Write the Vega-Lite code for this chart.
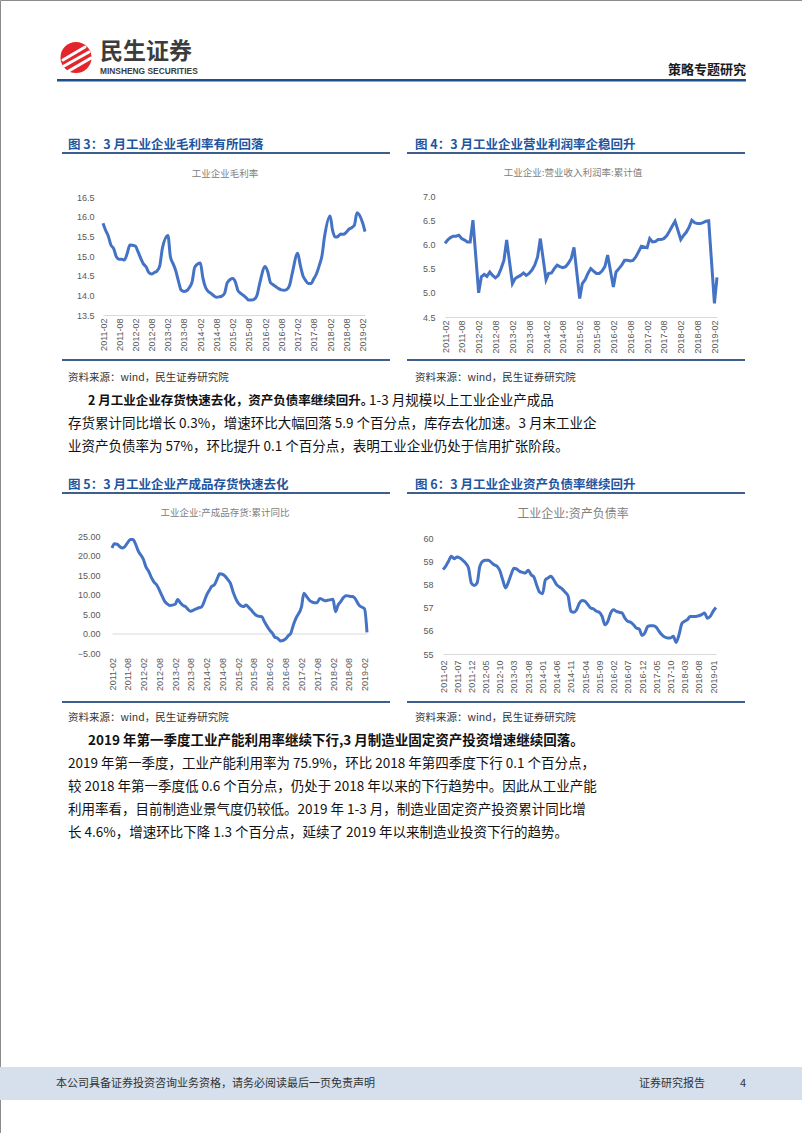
{
"$schema": "https://vega.github.io/schema/vega-lite/v6.json",
"width": 802, "height": 1133, "padding": 0, "autosize": {"type": "none"},
"background": "#ffffff",
"config": {"view": {"stroke": "#8c8c8c", "strokeWidth": 1}, "font": "Noto Sans CJK SC"},
"datasets": {
"gm": [
{"d":"2011-02","v":15.83},{"d":"2011-03","v":15.66},{"d":"2011-04","v":15.51},{"d":"2011-05","v":15.28},{"d":"2011-06","v":15.19},{"d":"2011-07","v":14.98},{"d":"2011-08","v":14.92},{"d":"2011-09","v":14.92},{"d":"2011-10","v":14.90},{"d":"2011-11","v":15.07},{"d":"2011-12","v":15.28},
{"d":"2012-02","v":15.25},{"d":"2012-03","v":15.11},{"d":"2012-04","v":14.94},{"d":"2012-05","v":14.80},{"d":"2012-06","v":14.72},{"d":"2012-07","v":14.58},{"d":"2012-08","v":14.54},{"d":"2012-09","v":14.58},{"d":"2012-10","v":14.62},{"d":"2012-11","v":14.75},{"d":"2012-12","v":15.20},
{"d":"2013-02","v":15.52},{"d":"2013-03","v":14.98},{"d":"2013-04","v":14.80},{"d":"2013-05","v":14.62},{"d":"2013-06","v":14.35},{"d":"2013-07","v":14.13},{"d":"2013-08","v":14.10},{"d":"2013-09","v":14.12},{"d":"2013-10","v":14.20},{"d":"2013-11","v":14.35},{"d":"2013-12","v":14.72},
{"d":"2014-02","v":14.82},{"d":"2014-03","v":14.45},{"d":"2014-04","v":14.20},{"d":"2014-05","v":14.10},{"d":"2014-06","v":14.05},{"d":"2014-07","v":13.99},{"d":"2014-08","v":13.95},{"d":"2014-09","v":13.96},{"d":"2014-10","v":13.98},{"d":"2014-11","v":14.05},{"d":"2014-12","v":14.32},
{"d":"2015-02","v":14.43},{"d":"2015-03","v":14.35},{"d":"2015-04","v":14.12},{"d":"2015-05","v":14.05},{"d":"2015-06","v":14.00},{"d":"2015-07","v":13.94},{"d":"2015-08","v":13.88},{"d":"2015-09","v":13.88},{"d":"2015-10","v":13.90},{"d":"2015-11","v":14.00},{"d":"2015-12","v":14.30},
{"d":"2016-02","v":14.73},{"d":"2016-03","v":14.60},{"d":"2016-04","v":14.32},{"d":"2016-05","v":14.27},{"d":"2016-06","v":14.22},{"d":"2016-07","v":14.17},{"d":"2016-08","v":14.14},{"d":"2016-09","v":14.13},{"d":"2016-10","v":14.15},{"d":"2016-11","v":14.25},{"d":"2016-12","v":14.55},
{"d":"2017-02","v":15.07},{"d":"2017-03","v":14.78},{"d":"2017-04","v":14.50},{"d":"2017-05","v":14.38},{"d":"2017-06","v":14.30},{"d":"2017-07","v":14.30},{"d":"2017-08","v":14.42},{"d":"2017-09","v":14.55},{"d":"2017-10","v":14.75},{"d":"2017-11","v":15.00},{"d":"2017-12","v":15.50},
{"d":"2018-02","v":16.02},{"d":"2018-03","v":15.65},{"d":"2018-04","v":15.48},{"d":"2018-05","v":15.50},{"d":"2018-06","v":15.56},{"d":"2018-07","v":15.55},{"d":"2018-08","v":15.60},{"d":"2018-09","v":15.68},{"d":"2018-10","v":15.72},{"d":"2018-11","v":15.78},{"d":"2018-12","v":16.10},
{"d":"2019-02","v":15.85},{"d":"2019-03","v":15.62}],
"pm": [
{"d":"2011-02","v":6.02},{"d":"2011-03","v":6.09},{"d":"2011-04","v":6.14},{"d":"2011-05","v":6.17},{"d":"2011-06","v":6.17},{"d":"2011-07","v":6.19},{"d":"2011-08","v":6.12},{"d":"2011-09","v":6.09},{"d":"2011-10","v":6.05},{"d":"2011-11","v":6.05},{"d":"2011-12","v":6.50},
{"d":"2012-02","v":5.00},{"d":"2012-03","v":5.33},{"d":"2012-04","v":5.38},{"d":"2012-05","v":5.34},{"d":"2012-06","v":5.43},{"d":"2012-07","v":5.36},{"d":"2012-08","v":5.31},{"d":"2012-09","v":5.36},{"d":"2012-10","v":5.50},{"d":"2012-11","v":5.67},{"d":"2012-12","v":6.09},
{"d":"2013-02","v":5.19},{"d":"2013-03","v":5.29},{"d":"2013-04","v":5.33},{"d":"2013-05","v":5.36},{"d":"2013-06","v":5.41},{"d":"2013-07","v":5.36},{"d":"2013-08","v":5.40},{"d":"2013-09","v":5.47},{"d":"2013-10","v":5.57},{"d":"2013-11","v":5.74},{"d":"2013-12","v":6.12},
{"d":"2014-02","v":5.27},{"d":"2014-03","v":5.40},{"d":"2014-04","v":5.41},{"d":"2014-05","v":5.50},{"d":"2014-06","v":5.57},{"d":"2014-07","v":5.54},{"d":"2014-08","v":5.52},{"d":"2014-09","v":5.54},{"d":"2014-10","v":5.61},{"d":"2014-11","v":5.71},{"d":"2014-12","v":5.94},
{"d":"2015-02","v":4.88},{"d":"2015-03","v":5.19},{"d":"2015-04","v":5.27},{"d":"2015-05","v":5.40},{"d":"2015-06","v":5.50},{"d":"2015-07","v":5.45},{"d":"2015-08","v":5.40},{"d":"2015-09","v":5.40},{"d":"2015-10","v":5.45},{"d":"2015-11","v":5.54},{"d":"2015-12","v":5.78},
{"d":"2016-02","v":5.12},{"d":"2016-03","v":5.43},{"d":"2016-04","v":5.50},{"d":"2016-05","v":5.57},{"d":"2016-06","v":5.67},{"d":"2016-07","v":5.67},{"d":"2016-08","v":5.66},{"d":"2016-09","v":5.67},{"d":"2016-10","v":5.74},{"d":"2016-11","v":5.85},{"d":"2016-12","v":5.96},
{"d":"2017-02","v":5.93},{"d":"2017-03","v":6.12},{"d":"2017-04","v":6.05},{"d":"2017-05","v":6.06},{"d":"2017-06","v":6.10},{"d":"2017-07","v":6.10},{"d":"2017-08","v":6.12},{"d":"2017-09","v":6.18},{"d":"2017-10","v":6.27},{"d":"2017-11","v":6.38},{"d":"2017-12","v":6.48},
{"d":"2018-02","v":6.10},{"d":"2018-03","v":6.18},{"d":"2018-04","v":6.25},{"d":"2018-05","v":6.35},{"d":"2018-06","v":6.50},{"d":"2018-07","v":6.45},{"d":"2018-08","v":6.43},{"d":"2018-09","v":6.43},{"d":"2018-10","v":6.45},{"d":"2018-11","v":6.48},{"d":"2018-12","v":6.49},
{"d":"2019-02","v":4.78},{"d":"2019-03","v":5.32}],
"inv": [
{"d":"2011-02","v":21.9},{"d":"2011-03","v":23.0},{"d":"2011-04","v":22.9},{"d":"2011-05","v":22.3},{"d":"2011-06","v":21.9},{"d":"2011-07","v":22.3},{"d":"2011-08","v":23.3},{"d":"2011-09","v":24.1},{"d":"2011-10","v":24.1},{"d":"2011-11","v":22.9},{"d":"2011-12","v":21.2},
{"d":"2012-02","v":18.9},{"d":"2012-03","v":17.0},{"d":"2012-04","v":15.9},{"d":"2012-05","v":14.4},{"d":"2012-06","v":13.2},{"d":"2012-07","v":12.5},{"d":"2012-08","v":11.2},{"d":"2012-09","v":9.7},{"d":"2012-10","v":8.3},{"d":"2012-11","v":7.6},{"d":"2012-12","v":7.2},
{"d":"2013-02","v":7.5},{"d":"2013-03","v":8.7},{"d":"2013-04","v":7.9},{"d":"2013-05","v":7.2},{"d":"2013-06","v":6.9},{"d":"2013-07","v":6.1},{"d":"2013-08","v":5.7},{"d":"2013-09","v":6.0},{"d":"2013-10","v":6.3},{"d":"2013-11","v":6.6},{"d":"2013-12","v":6.8},
{"d":"2014-02","v":9.9},{"d":"2014-03","v":11.0},{"d":"2014-04","v":12.1},{"d":"2014-05","v":12.5},{"d":"2014-06","v":14.0},{"d":"2014-07","v":15.3},{"d":"2014-08","v":15.2},{"d":"2014-09","v":14.7},{"d":"2014-10","v":13.9},{"d":"2014-11","v":12.9},{"d":"2014-12","v":10.8},
{"d":"2015-02","v":7.8},{"d":"2015-03","v":7.2},{"d":"2015-04","v":6.9},{"d":"2015-05","v":7.3},{"d":"2015-06","v":6.7},{"d":"2015-07","v":6.0},{"d":"2015-08","v":5.2},{"d":"2015-09","v":4.6},{"d":"2015-10","v":4.4},{"d":"2015-11","v":4.3},{"d":"2015-12","v":3.0},
{"d":"2016-02","v":0.8},{"d":"2016-03","v":0.1},{"d":"2016-04","v":-1.0},{"d":"2016-05","v":-1.2},{"d":"2016-06","v":-1.9},{"d":"2016-07","v":-1.8},{"d":"2016-08","v":-1.4},{"d":"2016-09","v":-0.6},{"d":"2016-10","v":0.1},{"d":"2016-11","v":2.3},{"d":"2016-12","v":4.0},
{"d":"2017-02","v":6.8},{"d":"2017-03","v":10.3},{"d":"2017-04","v":9.5},{"d":"2017-05","v":8.6},{"d":"2017-06","v":8.1},{"d":"2017-07","v":7.9},{"d":"2017-08","v":7.9},{"d":"2017-09","v":9.0},{"d":"2017-10","v":8.7},{"d":"2017-11","v":8.4},{"d":"2017-12","v":8.5},
{"d":"2018-02","v":8.8},{"d":"2018-03","v":5.6},{"d":"2018-04","v":7.3},{"d":"2018-05","v":8.2},{"d":"2018-06","v":9.2},{"d":"2018-07","v":9.7},{"d":"2018-08","v":9.6},{"d":"2018-09","v":9.5},{"d":"2018-10","v":9.3},{"d":"2018-11","v":8.3},{"d":"2018-12","v":7.2},
{"d":"2019-02","v":6.3},{"d":"2019-03","v":0.3}],
"lev": [
{"d":"2011-02","v":58.64},{"d":"2011-03","v":58.78},{"d":"2011-04","v":59.00},{"d":"2011-05","v":59.21},{"d":"2011-06","v":59.11},{"d":"2011-07","v":59.18},{"d":"2011-08","v":59.14},{"d":"2011-09","v":59.04},{"d":"2011-10","v":58.92},{"d":"2011-11","v":58.71},{"d":"2011-12","v":58.06},
{"d":"2012-01","v":57.95},{"d":"2012-02","v":58.06},{"d":"2012-03","v":58.78},{"d":"2012-04","v":59.00},{"d":"2012-05","v":59.04},{"d":"2012-06","v":59.04},{"d":"2012-07","v":58.95},{"d":"2012-08","v":58.85},{"d":"2012-09","v":58.78},{"d":"2012-10","v":58.60},{"d":"2012-11","v":58.20},{"d":"2012-12","v":57.85},
{"d":"2013-01","v":58.10},{"d":"2013-02","v":58.45},{"d":"2013-03","v":58.70},{"d":"2013-04","v":58.66},{"d":"2013-05","v":58.56},{"d":"2013-06","v":58.52},{"d":"2013-07","v":58.49},{"d":"2013-08","v":58.61},{"d":"2013-09","v":58.42},{"d":"2013-10","v":58.32},{"d":"2013-11","v":57.95},{"d":"2013-12","v":57.66},
{"d":"2014-01","v":57.60},{"d":"2014-02","v":58.20},{"d":"2014-03","v":58.28},{"d":"2014-04","v":58.35},{"d":"2014-05","v":58.20},{"d":"2014-06","v":57.99},{"d":"2014-07","v":57.89},{"d":"2014-08","v":57.80},{"d":"2014-09","v":57.66},{"d":"2014-10","v":57.51},{"d":"2014-11","v":56.84},{"d":"2014-12","v":56.80},
{"d":"2015-01","v":56.91},{"d":"2015-02","v":57.20},{"d":"2015-03","v":57.31},{"d":"2015-04","v":57.27},{"d":"2015-05","v":57.13},{"d":"2015-06","v":56.98},{"d":"2015-07","v":56.94},{"d":"2015-08","v":56.84},{"d":"2015-09","v":56.80},{"d":"2015-10","v":56.62},{"d":"2015-11","v":56.26},{"d":"2015-12","v":56.41},
{"d":"2016-01","v":56.77},{"d":"2016-02","v":56.91},{"d":"2016-03","v":56.84},{"d":"2016-04","v":56.80},{"d":"2016-05","v":56.77},{"d":"2016-06","v":56.55},{"d":"2016-07","v":56.41},{"d":"2016-08","v":56.37},{"d":"2016-09","v":56.26},{"d":"2016-10","v":56.12},{"d":"2016-11","v":56.08},{"d":"2016-12","v":55.80},
{"d":"2017-01","v":55.91},{"d":"2017-02","v":56.19},{"d":"2017-03","v":56.22},{"d":"2017-04","v":56.22},{"d":"2017-05","v":56.16},{"d":"2017-06","v":55.98},{"d":"2017-07","v":55.83},{"d":"2017-08","v":55.73},{"d":"2017-09","v":55.69},{"d":"2017-10","v":55.69},{"d":"2017-11","v":55.76},{"d":"2017-12","v":55.50},
{"d":"2018-01","v":55.83},{"d":"2018-02","v":56.31},{"d":"2018-03","v":56.41},{"d":"2018-04","v":56.48},{"d":"2018-05","v":56.62},{"d":"2018-06","v":56.62},{"d":"2018-07","v":56.62},{"d":"2018-08","v":56.65},{"d":"2018-09","v":56.70},{"d":"2018-10","v":56.77},{"d":"2018-11","v":56.54},{"d":"2018-12","v":56.62},
{"d":"2019-01","v":56.84},{"d":"2019-02","v":57.00}]
},
"layer": [
{"data":{"values":[{}]},"mark":{"type":"rect","x":0,"x2":802,"y":1067,"y2":1100,"color":"#D5E0EC"},"encoding":{}},
{"data":{"values":[{}]},"mark":{"type":"point","shape":"circle","filled":true,"opacity":1,"size":962,"x":76,"y":57.5,"color":"#E3262C"}},
{"data":{"values":[{}]},"mark":{"type":"rule","color":"#ffffff","strokeWidth":3,"strokeCap":"round"},"encoding":{"x":{"value":63},"y":{"value":60},"x2":{"value":85},"y2":{"value":47}}},
{"data":{"values":[{}]},"mark":{"type":"rule","color":"#ffffff","strokeWidth":3,"strokeCap":"round"},"encoding":{"x":{"value":64},"y":{"value":66},"x2":{"value":89},"y2":{"value":52}}},
{"data":{"values":[{}]},"mark":{"type":"rule","color":"#ffffff","strokeWidth":3,"strokeCap":"round"},"encoding":{"x":{"value":67},"y":{"value":72},"x2":{"value":91},"y2":{"value":58}}},
{"data":{"values":[{}]},"mark":{"type":"text","text":"民生证券","x":100,"y":52,"align":"left","baseline":"middle","fontSize":23,"fontWeight":"bold","color":"#3c3c3c"}},
{"data":{"values":[{}]},"mark":{"type":"text","text":"MINSHENG SECURITIES","x":100,"y":70.5,"align":"left","baseline":"middle","font":"Liberation Sans","fontSize":8.4,"fontWeight":"bold","color":"#3c3c3c"}},
{"data":{"values":[{}]},"mark":{"type":"text","text":"策略专题研究","x":746,"y":70,"align":"right","baseline":"middle","fontSize":13,"fontWeight":"bold","color":"#1a1a1a"}},
{"data":{"values":[{}]},"mark":{"type":"rect","x":57,"x2":746,"y":79,"y2":81.5,"color":"#1F4E8C"},"encoding":{}},

{"data":{"values":[{}]},"mark":{"type":"text","text":"图 3：3 月工业企业毛利率有所回落","x":68,"y":145,"align":"left","baseline":"middle","fontSize":12.5,"fontWeight":"bold","color":"#1E55A0"}},
{"data":{"values":[{}]},"mark":{"type":"text","text":"图 4：3 月工业企业营业利润率企稳回升","x":415,"y":145,"align":"left","baseline":"middle","fontSize":12.5,"fontWeight":"bold","color":"#1E55A0"}},
{"data":{"values":[{}]},"mark":{"type":"text","text":"图 5：3 月工业企业产成品存货快速去化","x":68,"y":485,"align":"left","baseline":"middle","fontSize":12.5,"fontWeight":"bold","color":"#1E55A0"}},
{"data":{"values":[{}]},"mark":{"type":"text","text":"图 6：3 月工业企业资产负债率继续回升","x":415,"y":485,"align":"left","baseline":"middle","fontSize":12.5,"fontWeight":"bold","color":"#1E55A0"}},
{"data":{"values":[{}]},"mark":{"type":"rect","x":62,"x2":390,"y":152,"y2":154,"color":"#3D5F8E"},"encoding":{}},
{"data":{"values":[{}]},"mark":{"type":"rect","x":407,"x2":745,"y":152,"y2":154,"color":"#3D5F8E"},"encoding":{}},
{"data":{"values":[{}]},"mark":{"type":"rect","x":62,"x2":390,"y":359,"y2":361,"color":"#3D5F8E"},"encoding":{}},
{"data":{"values":[{}]},"mark":{"type":"rect","x":407,"x2":745,"y":359,"y2":361,"color":"#3D5F8E"},"encoding":{}},
{"data":{"values":[{}]},"mark":{"type":"rect","x":62,"x2":390,"y":492,"y2":494,"color":"#3D5F8E"},"encoding":{}},
{"data":{"values":[{}]},"mark":{"type":"rect","x":407,"x2":745,"y":492,"y2":494,"color":"#3D5F8E"},"encoding":{}},
{"data":{"values":[{}]},"mark":{"type":"rect","x":62,"x2":390,"y":701,"y2":703,"color":"#3D5F8E"},"encoding":{}},
{"data":{"values":[{}]},"mark":{"type":"rect","x":407,"x2":745,"y":701,"y2":703,"color":"#3D5F8E"},"encoding":{}},
{"data":{"values":[{}]},"mark":{"type":"text","text":"工业企业毛利率","x":225,"y":174,"align":"center","baseline":"middle","fontSize":9.5,"color":"#808080"}},
{"data":{"values":[{}]},"mark":{"type":"text","text":"工业企业:营业收入利润率:累计值","x":573,"y":173,"align":"center","baseline":"middle","fontSize":9.5,"color":"#808080"}},
{"data":{"values":[{}]},"mark":{"type":"text","text":"工业企业:产成品存货:累计同比","x":225,"y":513,"align":"center","baseline":"middle","fontSize":9.5,"color":"#808080"}},
{"data":{"values":[{}]},"mark":{"type":"text","text":"工业企业:资产负债率","x":573,"y":514,"align":"center","baseline":"middle","fontSize":12,"color":"#808080"}},
{"data":{"values":[{}]},"mark":{"type":"text","text":"资料来源：wind，民生证券研究院","x":68,"y":378,"align":"left","baseline":"middle","fontSize":10.5,"color":"#333333"}},
{"data":{"values":[{}]},"mark":{"type":"text","text":"资料来源：wind，民生证券研究院","x":415,"y":378,"align":"left","baseline":"middle","fontSize":10.5,"color":"#333333"}},
{"data":{"values":[{}]},"mark":{"type":"text","text":"资料来源：wind，民生证券研究院","x":68,"y":718,"align":"left","baseline":"middle","fontSize":10.5,"color":"#333333"}},
{"data":{"values":[{}]},"mark":{"type":"text","text":"资料来源：wind，民生证券研究院","x":415,"y":718,"align":"left","baseline":"middle","fontSize":10.5,"color":"#333333"}},

{"data":{"values":[{}]},"mark":{"type":"text","text":"2 月工业企业存货快速去化，资产负债率继续回升。","x":88,"y":401,"align":"left","baseline":"middle","fontSize":12.5,"fontWeight":"bold","color":"#111111"}},
{"data":{"values":[{}]},"mark":{"type":"text","text":"1-3 月规模以上工业企业产成品","x":369,"y":401,"align":"left","baseline":"middle","fontSize":13.5,"color":"#111111"}},
{"data":{"values":[{}]},"mark":{"type":"text","text":"存货累计同比增长 0.3%，增速环比大幅回落 5.9 个百分点，库存去化加速。3 月末工业企","x":68,"y":424,"align":"left","baseline":"middle","fontSize":13.5,"color":"#111111"}},
{"data":{"values":[{}]},"mark":{"type":"text","text":"业资产负债率为 57%，环比提升 0.1 个百分点，表明工业企业仍处于信用扩张阶段。","x":68,"y":447,"align":"left","baseline":"middle","fontSize":13.5,"color":"#111111"}},
{"data":{"values":[{}]},"mark":{"type":"text","text":"2019 年第一季度工业产能利用率继续下行,3 月制造业固定资产投资增速继续回落。","x":88,"y":741,"align":"left","baseline":"middle","fontSize":13.5,"fontWeight":"bold","color":"#111111"}},
{"data":{"values":[{}]},"mark":{"type":"text","text":"2019 年第一季度，工业产能利用率为 75.9%，环比 2018 年第四季度下行 0.1 个百分点，","x":68,"y":764,"align":"left","baseline":"middle","fontSize":13.5,"color":"#111111"}},
{"data":{"values":[{}]},"mark":{"type":"text","text":"较 2018 年第一季度低 0.6 个百分点，仍处于 2018 年以来的下行趋势中。因此从工业产能","x":68,"y":787,"align":"left","baseline":"middle","fontSize":13.5,"color":"#111111"}},
{"data":{"values":[{}]},"mark":{"type":"text","text":"利用率看，目前制造业景气度仍较低。2019 年 1-3 月，制造业固定资产投资累计同比增","x":68,"y":810,"align":"left","baseline":"middle","fontSize":13.5,"color":"#111111"}},
{"data":{"values":[{}]},"mark":{"type":"text","text":"长 4.6%，增速环比下降 1.3 个百分点，延续了 2019 年以来制造业投资下行的趋势。","x":68,"y":833,"align":"left","baseline":"middle","fontSize":13.5,"color":"#111111"}},

{"data":{"values":[{}]},"mark":{"type":"text","text":"本公司具备证券投资咨询业务资格，请务必阅读最后一页免责声明","x":56,"y":1084,"align":"left","baseline":"middle","fontSize":11,"color":"#333333"}},
{"data":{"values":[{}]},"mark":{"type":"text","text":"证券研究报告","x":639,"y":1084,"align":"left","baseline":"middle","fontSize":11,"color":"#333333"}},
{"data":{"values":[{}]},"mark":{"type":"text","text":"4","x":740,"y":1084,"align":"left","baseline":"middle","fontSize":11,"color":"#333333"}},

{"data":{"name":"gm"},"mark":{"type":"line","color":"#4472C4","strokeWidth":3,"interpolate":"monotone"},
 "encoding":{
  "x":{"field":"d","type":"temporal","scale":{"type":"utc","domain":[{"year":2011,"month":2,"date":1,"utc":true},{"year":2019,"month":3,"date":1,"utc":true}],"range":[103,365]},
   "axis":{"orient":"bottom","offset":-818,"title":null,"grid":false,"ticks":false,"domainColor":"#D9D9D9","labelAngle":270,"labelPadding":3,"labelFont":"Liberation Sans","labelFontSize":9,"labelColor":"#595959","labelOverlap":false,"labelFlush":false,"labelBound":false,"labelExpr":"utcFormat(datum.value, '%Y-%m')",
    "values":[{"year":2011,"month":2,"utc":true},{"year":2011,"month":8,"utc":true},{"year":2012,"month":2,"utc":true},{"year":2012,"month":8,"utc":true},{"year":2013,"month":2,"utc":true},{"year":2013,"month":8,"utc":true},{"year":2014,"month":2,"utc":true},{"year":2014,"month":8,"utc":true},{"year":2015,"month":2,"utc":true},{"year":2015,"month":8,"utc":true},{"year":2016,"month":2,"utc":true},{"year":2016,"month":8,"utc":true},{"year":2017,"month":2,"utc":true},{"year":2017,"month":8,"utc":true},{"year":2018,"month":2,"utc":true},{"year":2018,"month":8,"utc":true},{"year":2019,"month":2,"utc":true}]}},
  "y":{"field":"v","type":"quantitative","scale":{"domain":[13.5,16.5],"range":[315,197],"zero":false,"nice":false},
   "axis":{"orient":"left","offset":-103,"title":null,"grid":false,"ticks":false,"domain":false,"labelPadding":9,"labelFont":"Liberation Sans","labelFontSize":9,"labelColor":"#595959","format":".1f","values":[13.5,14,14.5,15,15.5,16,16.5]}}}},

{"data":{"name":"pm"},"mark":{"type":"line","color":"#4472C4","strokeWidth":3},
 "encoding":{
  "x":{"field":"d","type":"temporal","scale":{"type":"utc","domain":[{"year":2011,"month":2,"date":1,"utc":true},{"year":2019,"month":3,"date":1,"utc":true}],"range":[445,717]},
   "axis":{"orient":"bottom","offset":-816,"title":null,"grid":false,"ticks":false,"domainColor":"#D9D9D9","labelAngle":270,"labelPadding":3,"labelFont":"Liberation Sans","labelFontSize":9,"labelColor":"#595959","labelOverlap":false,"labelFlush":false,"labelBound":false,"labelExpr":"utcFormat(datum.value, '%Y-%m')",
    "values":[{"year":2011,"month":2,"utc":true},{"year":2011,"month":8,"utc":true},{"year":2012,"month":2,"utc":true},{"year":2012,"month":8,"utc":true},{"year":2013,"month":2,"utc":true},{"year":2013,"month":8,"utc":true},{"year":2014,"month":2,"utc":true},{"year":2014,"month":8,"utc":true},{"year":2015,"month":2,"utc":true},{"year":2015,"month":8,"utc":true},{"year":2016,"month":2,"utc":true},{"year":2016,"month":8,"utc":true},{"year":2017,"month":2,"utc":true},{"year":2017,"month":8,"utc":true},{"year":2018,"month":2,"utc":true},{"year":2018,"month":8,"utc":true},{"year":2019,"month":2,"utc":true}]}},
  "y":{"field":"v","type":"quantitative","scale":{"domain":[4.5,7.0],"range":[317,196],"zero":false,"nice":false},
   "axis":{"orient":"left","offset":-445,"title":null,"grid":false,"ticks":false,"domain":false,"labelPadding":10,"labelFont":"Liberation Sans","labelFontSize":9,"labelColor":"#595959","format":".1f","values":[4.5,5,5.5,6,6.5,7]}}}},

{"data":{"name":"inv"},"mark":{"type":"line","color":"#4472C4","strokeWidth":3,"interpolate":"monotone"},
 "encoding":{
  "x":{"field":"d","type":"temporal","scale":{"type":"utc","domain":[{"year":2011,"month":2,"date":1,"utc":true},{"year":2019,"month":3,"date":1,"utc":true}],"range":[112,367]},
   "axis":{"orient":"bottom","offset":-499.5,"title":null,"grid":false,"ticks":false,"domainColor":"#D9D9D9","labelAngle":270,"labelPadding":24,"labelFont":"Liberation Sans","labelFontSize":9,"labelColor":"#595959","labelOverlap":false,"labelFlush":false,"labelBound":false,"labelExpr":"utcFormat(datum.value, '%Y-%m')",
    "values":[{"year":2011,"month":2,"utc":true},{"year":2011,"month":8,"utc":true},{"year":2012,"month":2,"utc":true},{"year":2012,"month":8,"utc":true},{"year":2013,"month":2,"utc":true},{"year":2013,"month":8,"utc":true},{"year":2014,"month":2,"utc":true},{"year":2014,"month":8,"utc":true},{"year":2015,"month":2,"utc":true},{"year":2015,"month":8,"utc":true},{"year":2016,"month":2,"utc":true},{"year":2016,"month":8,"utc":true},{"year":2017,"month":2,"utc":true},{"year":2017,"month":8,"utc":true},{"year":2018,"month":2,"utc":true},{"year":2018,"month":8,"utc":true},{"year":2019,"month":2,"utc":true}]}},
  "y":{"field":"v","type":"quantitative","scale":{"domain":[-5,25],"range":[653,536],"zero":false,"nice":false},
   "axis":{"orient":"left","offset":-112,"title":null,"grid":false,"ticks":false,"domain":false,"labelPadding":12,"labelFont":"Liberation Sans","labelFontSize":9,"labelColor":"#595959","format":".2f","values":[-5,0,5,10,15,20,25]}}}},

{"data":{"name":"lev"},"mark":{"type":"line","color":"#4472C4","strokeWidth":3,"interpolate":"monotone"},
 "encoding":{
  "x":{"field":"d","type":"temporal","scale":{"type":"utc","domain":[{"year":2011,"month":2,"date":1,"utc":true},{"year":2019,"month":2,"date":1,"utc":true}],"range":[443,716]},
   "axis":{"orient":"bottom","offset":-479,"title":null,"grid":false,"ticks":false,"domainColor":"#D9D9D9","labelAngle":270,"labelPadding":6,"labelFont":"Liberation Sans","labelFontSize":9,"labelColor":"#595959","labelOverlap":false,"labelFlush":false,"labelBound":false,"labelExpr":"utcFormat(datum.value, '%Y-%m')",
    "values":[{"year":2011,"month":2,"utc":true},{"year":2011,"month":7,"utc":true},{"year":2011,"month":12,"utc":true},{"year":2012,"month":5,"utc":true},{"year":2012,"month":10,"utc":true},{"year":2013,"month":3,"utc":true},{"year":2013,"month":8,"utc":true},{"year":2014,"month":1,"utc":true},{"year":2014,"month":6,"utc":true},{"year":2014,"month":11,"utc":true},{"year":2015,"month":4,"utc":true},{"year":2015,"month":9,"utc":true},{"year":2016,"month":2,"utc":true},{"year":2016,"month":7,"utc":true},{"year":2016,"month":12,"utc":true},{"year":2017,"month":5,"utc":true},{"year":2017,"month":10,"utc":true},{"year":2018,"month":3,"utc":true},{"year":2018,"month":8,"utc":true},{"year":2019,"month":1,"utc":true}]}},
  "y":{"field":"v","type":"quantitative","scale":{"domain":[55,60],"range":[654,538],"zero":false,"nice":false},
   "axis":{"orient":"left","offset":-443,"title":null,"grid":false,"ticks":false,"domain":false,"labelPadding":10,"labelFont":"Liberation Sans","labelFontSize":9,"labelColor":"#595959","format":"d","values":[55,56,57,58,59,60]}}}}
],
"resolve": {"scale": {"x": "independent", "y": "independent"}, "axis": {"x": "independent", "y": "independent"}}
}
